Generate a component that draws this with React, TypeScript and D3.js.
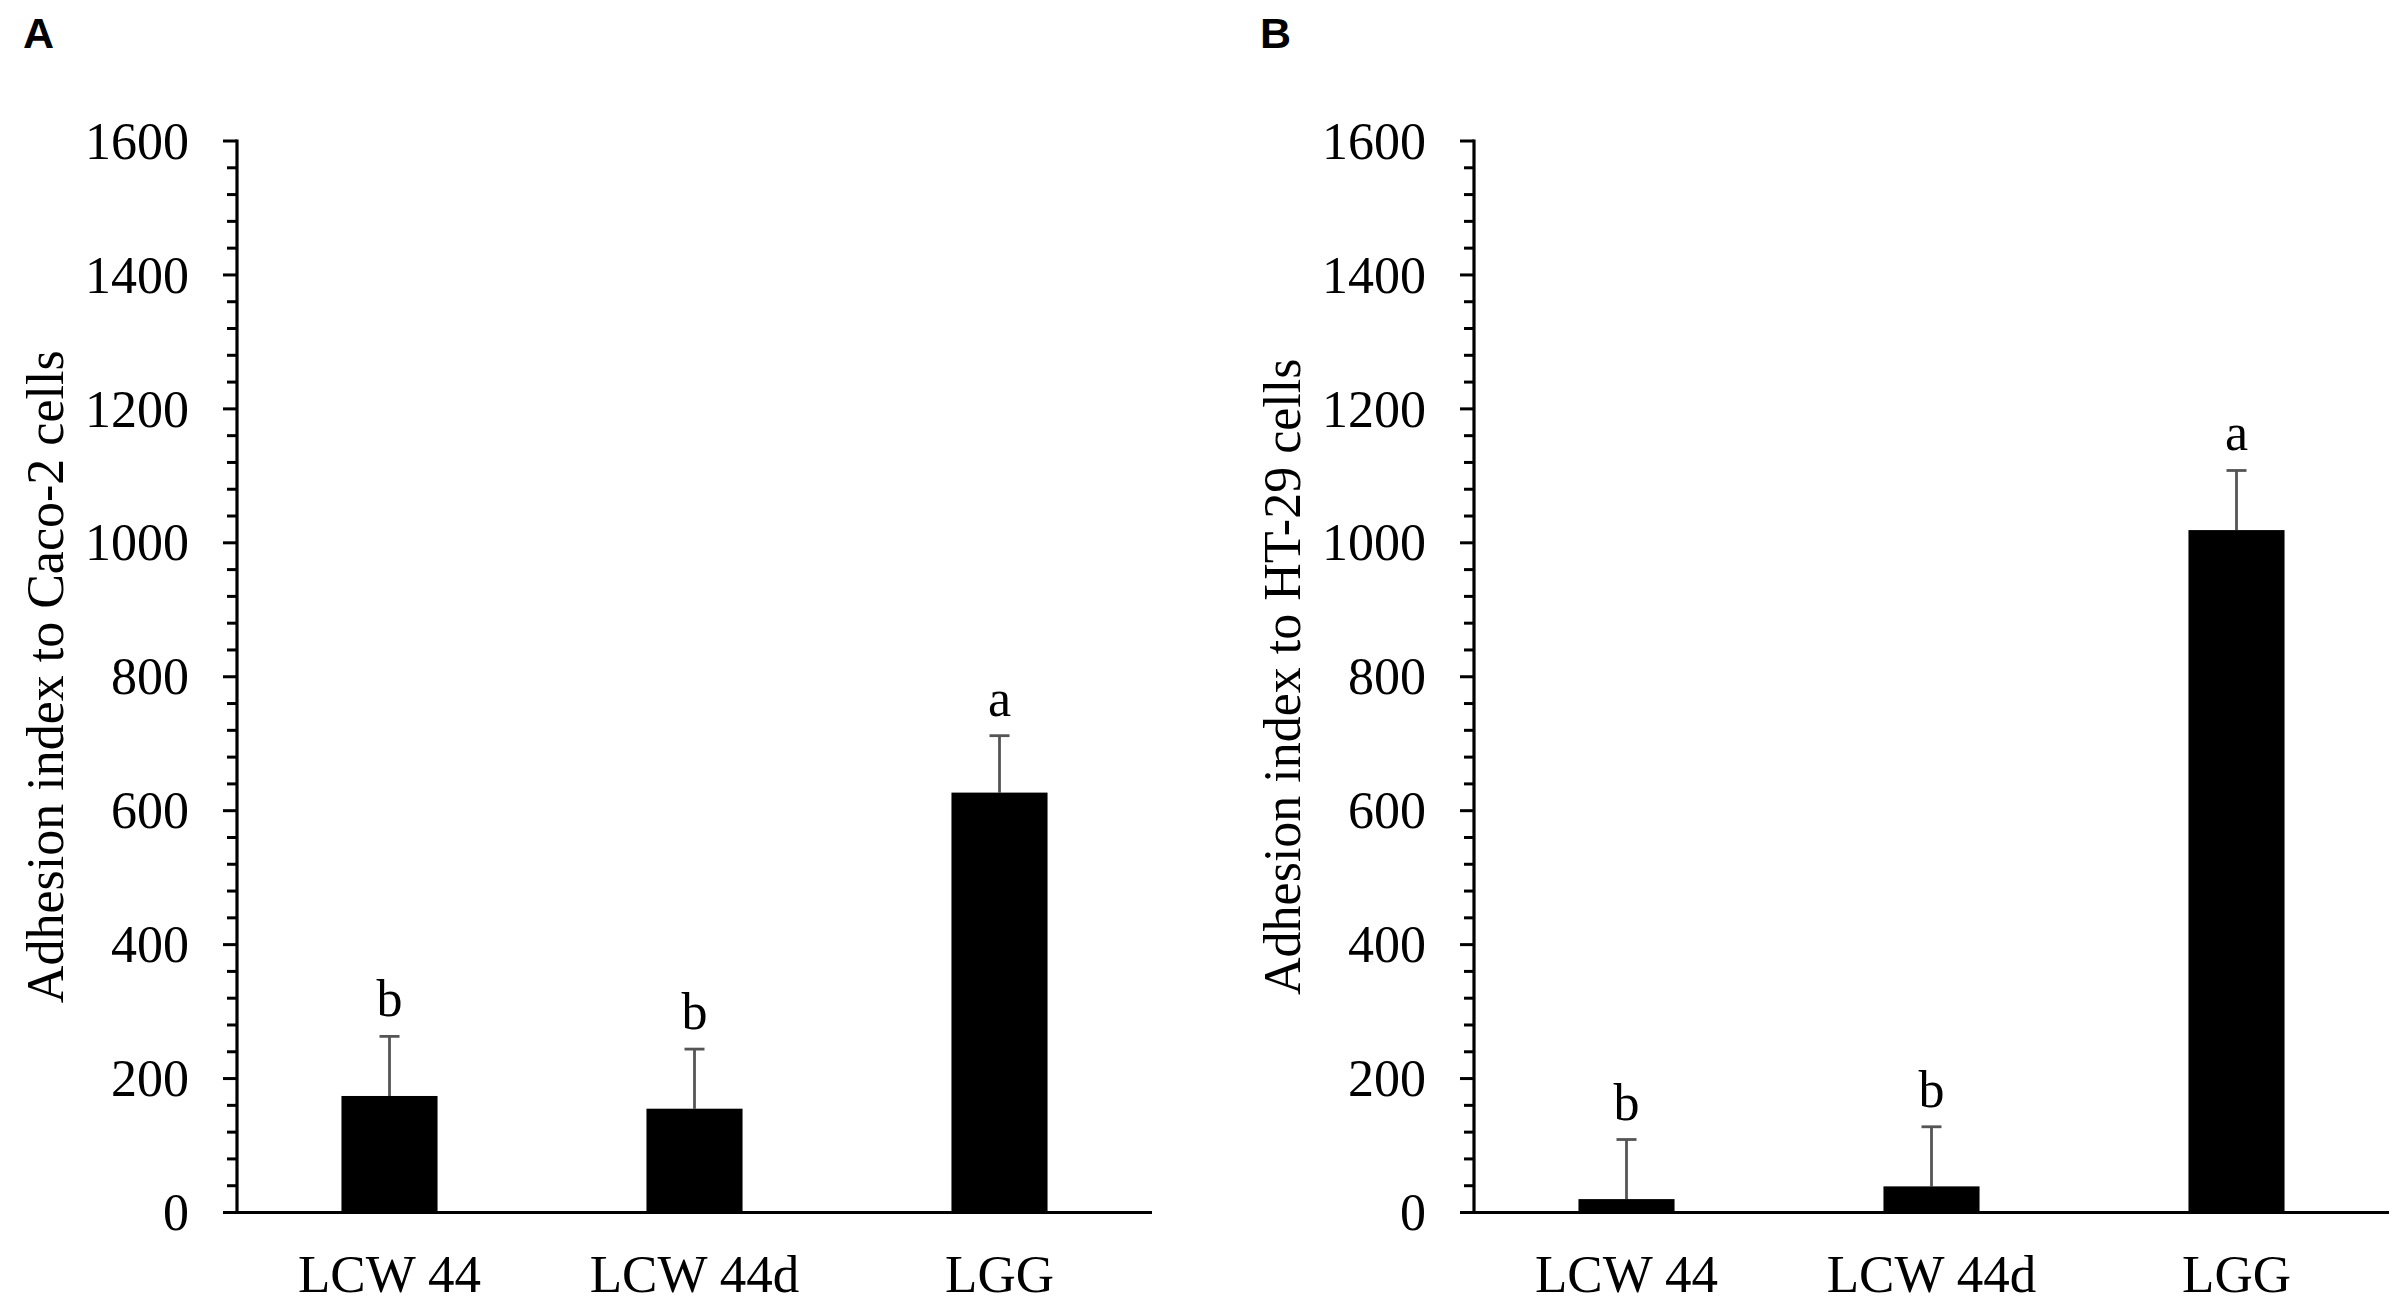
import React from "react";
import * as d3 from "d3";

const categories = ["LCW 44", "LCW 44d", "LGG"];
const caco2Means = [174, 155, 627];
const caco2Errors = [89, 89, 85];
const caco2Letters = ["b", "b", "a"];
const ht29Means = [20, 39, 1019];
const ht29Errors = [89, 89, 89];
const ht29Letters = ["b", "b", "a"];
const yTicks = [0, 200, 400, 600, 800, 1000, 1200, 1400, 1600];

const SERIF = "'Liberation Serif', 'Times New Roman', serif";
const SANS = "'Liberation Sans', Arial, sans-serif";

type PanelProps = {
  axisX: number;
  means: number[];
  errors: number[];
  letters: string[];
  title: string;
  tag: string;
};

function Panel({ axisX, means, errors, letters, title, tag }: PanelProps) {
  const y = d3.scaleLinear().domain([0, 1600]).range([1212.5, 141]);
  const x = d3.scaleBand<string>().domain(categories).range([axisX, axisX + 915]).padding(0);
  const bw = x.bandwidth();
  const barW = bw * 0.315;
  const minor = d3.range(0, 1601, 40).filter((v) => v % 200 !== 0);
  const y0 = y(0);
  const midY = (y(0) + y(1600)) / 2;
  return (
    <g>
      <text x={axisX - 214} y={48} fontFamily={SANS} fontWeight="bold" fontSize={43} fill="#000">
        {tag}
      </text>
      {/* bars */}
      {categories.map((c, i) => {
        const cx = (x(c) as number) + bw / 2;
        const top = y(means[i]);
        const et = y(means[i] + errors[i]);
        return (
          <g key={c}>
            <line x1={cx} x2={cx} y1={top} y2={et} stroke="#555" strokeWidth={2.8} />
            <line x1={cx - 10} x2={cx + 10} y1={et} y2={et} stroke="#555" strokeWidth={2.8} />
            <rect x={cx - barW / 2} y={top} width={barW} height={y0 - top} fill="#000" />
            <text x={cx} y={et - 20} textAnchor="middle" fontFamily={SERIF} fontSize={52} fill="#000">
              {letters[i]}
            </text>
            <text x={cx} y={y0 + 79} textAnchor="middle" fontFamily={SERIF} fontSize={53} fill="#000">
              {c}
            </text>
          </g>
        );
      })}
      {/* y axis */}
      <line x1={axisX} x2={axisX} y1={y(1600) - 1.5} y2={y0} stroke="#000" strokeWidth={3.2} />
      {minor.map((v) => (
        <line key={"m" + v} x1={axisX - 10} x2={axisX} y1={y(v)} y2={y(v)} stroke="#000" strokeWidth={3} />
      ))}
      {yTicks.map((v) => (
        <g key={"t" + v}>
          <line x1={axisX - 14} x2={axisX} y1={y(v)} y2={y(v)} stroke="#000" strokeWidth={3} />
          <text
            x={axisX - 48}
            y={y(v)}
            dy="0.34em"
            textAnchor="end"
            fontFamily={SERIF}
            fontSize={52}
            fill="#000"
          >
            {v}
          </text>
        </g>
      ))}
      {/* x axis */}
      <line x1={axisX - 14} x2={axisX + 915} y1={y0} y2={y0} stroke="#000" strokeWidth={3.2} />
      <text
        transform={`translate(${axisX - 174},${midY}) rotate(-90)`}
        textAnchor="middle"
        fontFamily={SERIF}
        fontSize={52}
        fill="#000"
      >
        {title}
      </text>
    </g>
  );
}

export default function App() {
  return (
    <svg
      width={2400}
      height={1304}
      viewBox="0 0 2400 1304"
      style={{ position: "absolute", left: 0, top: 0, background: "#fff" }}
    >
      <rect x={0} y={0} width={2400} height={1304} fill="#fff" />
      <Panel
        axisX={237}
        means={caco2Means}
        errors={caco2Errors}
        letters={caco2Letters}
        title="Adhesion index to Caco-2 cells"
        tag="A"
      />
      <Panel
        axisX={1474}
        means={ht29Means}
        errors={ht29Errors}
        letters={ht29Letters}
        title="Adhesion index to HT-29 cells"
        tag="B"
      />
    </svg>
  );
}
